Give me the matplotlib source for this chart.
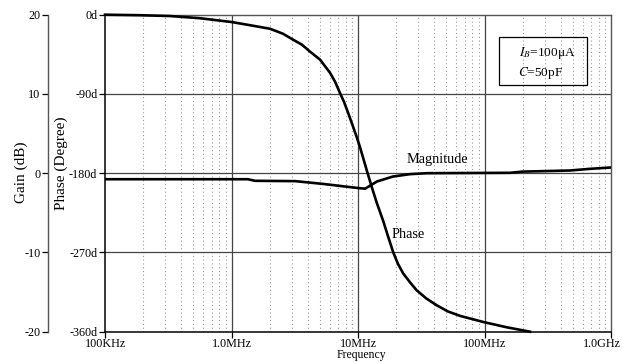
import numpy as np
import matplotlib.pyplot as plt
from matplotlib.ticker import FixedLocator, NullFormatter
from matplotlib.patches import Rectangle
from matplotlib.transforms import ScaledTranslation

plt.rcParams['font.family'] = ['Liberation Serif', 'DejaVu Serif']
plt.rcParams['mathtext.fontset'] = 'stix'

# Open-loop response, frequency in Hz
phase_freq = [1e5, 1.89e5, 3.26e5, 5.63e5, 1.0e6, 1.41e6, 2.02e6, 2.55e6, 3.08e6,
              3.6e6, 4.18e6, 5.01e6, 6.01e6, 6.58e6, 7.21e6, 7.75e6, 8.38e6,
              8.98e6, 9.77e6, 10.4e6, 11.0e6, 11.8e6, 12.8e6, 14.1e6, 15.8e6,
              17.3e6, 19.0e6, 20.7e6, 22.8e6, 25.8e6, 29.1e6, 34.5e6, 41.9e6,
              51.4e6, 64.0e6, 98e6, 150e6, 229e6]
phase_deg = [0, -0.6, -1.5, -4, -8.3, -12, -16, -21.6, -28.5,
             -34, -42, -51, -66, -76, -89, -99, -112,
             -124, -139, -151, -163, -178, -195, -214, -234,
             -252, -270, -283, -294, -304, -313, -322, -330,
             -337, -342, -349, -355, -360]

gain_freq = [1e5, 1.35e6, 1.53e6, 3.18e6, 5.28e6, 7.6e6, 10.4e6, 11.4e6, 14.1e6,
             18.9e6, 25.8e6, 35e6, 159e6, 200e6, 474e6, 682e6, 1e9]
gain_db = [-0.76, -0.76, -0.96, -1.0, -1.35, -1.65, -1.9, -1.95, -1.05,
           -0.42, -0.12, 0.0, 0.05, 0.2, 0.34, 0.55, 0.72]

freq_ticks = [1e5, 1e6, 1e7, 1e8, 1e9]
freq_labels = ['100KHz', '1.0MHz', '10MHz', '100MHz', '1.0GHz']
phase_ticks = [0, -90, -180, -270, -360]
phase_labels = ['0d', '-90d', '-180d', '-270d', '-360d']
gain_ticks = [20, 10, 0, -10, -20]

fig = plt.figure(figsize=(6.22, 3.62), dpi=100)
ax = fig.add_axes([105 / 622, 1 - 331.7 / 362, 506 / 622, 317 / 362])

ax.set_xscale('log')
ax.set_xlim(1e5, 1e9)
ax.set_ylim(-360, 0)

# grid: solid decades / phase levels, dotted minor decades
minor = [m * 10 ** e for e in range(5, 9) for m in range(2, 10)]
for f in minor:
    ax.axvline(f, color='#9a9a9a', lw=0.8, ls=(0, (1, 2.4)), zorder=1)
for f in freq_ticks[1:-1]:
    ax.axvline(f, color='#444444', lw=0.9, zorder=1)
for p in phase_ticks[1:-1]:
    ax.axhline(p, color='#444444', lw=0.9, zorder=1)

ax.plot(phase_freq, phase_deg, color='black', lw=1.9, zorder=3, clip_on=False)

ax.xaxis.set_major_locator(FixedLocator(freq_ticks))
ax.xaxis.set_minor_locator(FixedLocator([]))
ax.xaxis.set_minor_formatter(NullFormatter())
ax.set_xticklabels(freq_labels)
ax.set_yticks(phase_ticks)
ax.set_yticklabels(phase_labels)
ax.tick_params(axis='both', direction='out', length=4, width=0.9,
               labelsize=8.7, pad=1.5, colors='black')
ax.tick_params(axis='x', pad=0.5)

# keep the last frequency label inside the figure
last = ax.get_xticklabels()[-1]
last.set_transform(last.get_transform() + ScaledTranslation(-9 / 100, 0, fig.dpi_scale_trans))

for side in ['left', 'bottom']:
    ax.spines[side].set_linewidth(1.1)
    ax.spines[side].set_color('black')
for side in ['top', 'right']:
    ax.spines[side].set_linewidth(1.0)
    ax.spines[side].set_color('#555555')

# gain scale on an offset left spine
gax = ax.twinx()
gax.set_ylim(-20, 20)
gax.plot(gain_freq, gain_db, color='black', lw=1.9, zorder=3)
gax.yaxis.set_ticks_position('left')
gax.spines['left'].set_position(('axes', -57 / 506))
gax.spines['left'].set_visible(True)
gax.spines['left'].set_color('#555555')
gax.spines['left'].set_linewidth(1.0)
gax.spines['right'].set_visible(False)
gax.spines['top'].set_visible(False)
gax.spines['bottom'].set_visible(False)
gax.set_yticks(gain_ticks)
gax.set_yticklabels([str(g) for g in gain_ticks])
gax.tick_params(axis='y', direction='out', length=4, width=0.9,
                labelsize=8.7, pad=1.5, colors='black')

fig.text(21 / 622, 1 - 172 / 362, 'Gain (dB)', rotation=90, ha='center',
         va='center', fontsize=11)
fig.text(61 / 622, 1 - 163 / 362, 'Phase (Degree)', rotation=90, ha='center',
         va='center', fontsize=11)
fig.text(361 / 622, 1 - 355 / 362, 'Frequency', ha='center', va='center',
         fontsize=8.5)

fig.text(407 / 622, 1 - 163 / 362, 'Magnitude', fontsize=10.3,
         va='baseline', ha='left')
fig.text(392 / 622, 1 - 238 / 362, 'Phase', fontsize=10.3,
         va='baseline', ha='left')

# parameter box
fig.patches.append(Rectangle((499 / 622, 1 - 85 / 362), 88 / 622, 48 / 362,
                             transform=fig.transFigure, fill=False,
                             edgecolor='black', lw=0.9, zorder=5))
fig.text(519 / 622, 1 - 53 / 362, r'$I_B$=100μA', va='center', ha='left',
         fontsize=9.5)
fig.text(518 / 622, 1 - 73 / 362, r'$C$=50pF', va='center', ha='left',
         fontsize=9.5)

fig.savefig('out.png', dpi=100)
